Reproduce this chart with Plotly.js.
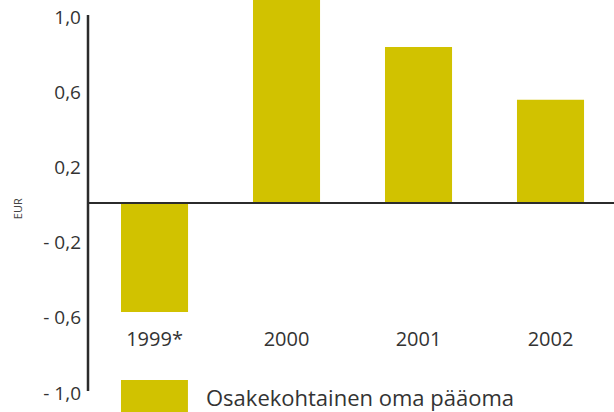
<!DOCTYPE html>
<html>
<head>
<meta charset="utf-8">
<script src="https://cdn.plot.ly/plotly-3.0.1.min.js"></script>
<style>html,body{margin:0;padding:0;background:#fff;}#chart{width:614px;height:412px;}</style>
</head>
<body>
<div id="chart"></div>
<script>
// Data
const categories = ["1999*", "2000", "2001", "2002"];
const values = [-0.58, 1.10, 0.83, 0.55];
const seriesName = "Osakekohtainen oma pääoma";
const yTickVals = [1.0, 0.6, 0.2, -0.2, -0.6, -1.0];
const yTickText = ["1,0", "0,6", "0,2", "- 0,2", "- 0,6", "- 1,0"];
const yUnit = "EUR";

const barColor = "#d1c200";
const textColor = "#333333";
const lineColor = "#2b2b2b";
const font = "Open Sans, Noto Sans, sans-serif";

const trace = {
  type: "bar",
  x: categories,
  y: values,
  name: seriesName,
  marker: {color: barColor, line: {width: 0}},
  showlegend: false,
  hoverinfo: "skip"
};

const layout = {
  width: 614,
  height: 412,
  margin: {l: 88, r: 0, t: 0, b: 21, pad: 0},
  paper_bgcolor: "#ffffff",
  plot_bgcolor: "#ffffff",
  bargap: 0.492,
  showlegend: false,
  font: {family: font, color: textColor},
  xaxis: {
    type: "category",
    range: [-0.504, 3.481],
    anchor: "free",
    position: 0.17,
    showline: false,
    showgrid: false,
    zeroline: false,
    ticks: "",
    tickfont: {family: font, size: 20, color: textColor},
    fixedrange: true
  },
  yaxis: {
    range: [-1, 1.08],
    tickvals: yTickVals,
    ticktext: yTickText,
    showline: false,
    showgrid: false,
    zeroline: true,
    zerolinecolor: lineColor,
    zerolinewidth: 2,
    zerolinelayer: "above traces",
    ticks: "",
    ticklabelstandoff: 6,
    ticklabelshift: 2,
    ticklabeloverflow: "allow",
    tickfont: {family: font, size: 19, color: textColor},
    fixedrange: true
  },
  shapes: [
    {type: "line", xref: "paper", yref: "y", x0: 0, x1: 0, y0: -1, y1: 1,
     line: {color: lineColor, width: 2.5}, layer: "above"},
    {type: "rect", xref: "paper", yref: "paper", x0: 0.0627, x1: 0.190, y0: 0.0281, y1: -0.0537,
     fillcolor: barColor, line: {width: 0}, layer: "above"}
  ],
  annotations: [
    {text: seriesName, xref: "paper", yref: "paper", x: 0.2205, y: -0.0153,
     xanchor: "left", yanchor: "middle", showarrow: false,
     font: {family: font, size: 22, color: textColor}},
    {text: yUnit, xref: "paper", yref: "y", x: -0.134, y: -0.03,
     xanchor: "center", yanchor: "middle", textangle: -90, showarrow: false,
     font: {family: font, size: 11, color: "#444444"}}
  ]
};

Plotly.newPlot("chart", [trace], layout, {staticPlot: true, displayModeBar: false});
</script>
</body>
</html>
